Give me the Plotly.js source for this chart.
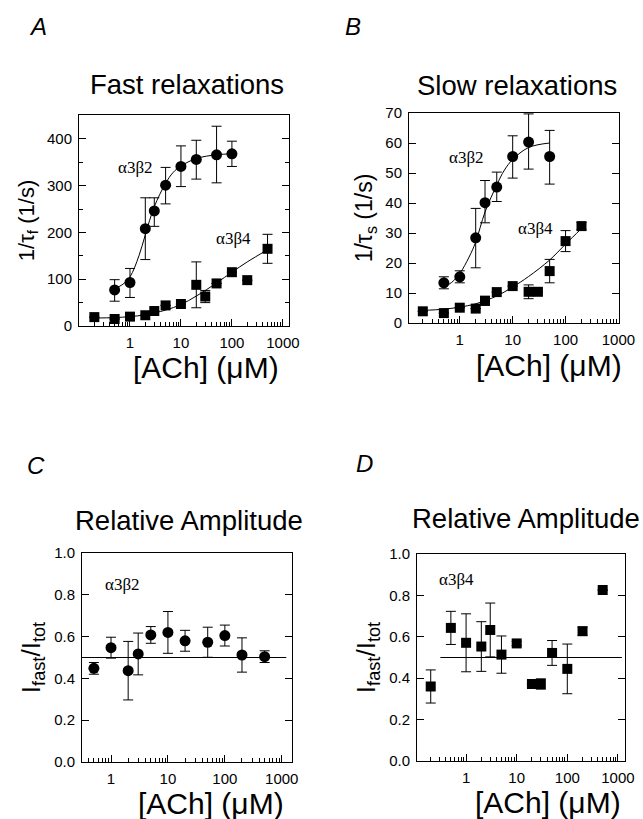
<!DOCTYPE html>
<html><head><meta charset="utf-8">
<script src="https://cdn.plot.ly/plotly-3.0.1.min.js"></script>
<style>html,body{margin:0;padding:0;background:#fff}#chart{width:643px;height:819px}</style>
</head><body><div id="chart"></div>
<script>
// ---------- Data ----------
// Panel A: fast relaxations 1/tau_f (1/s)
const concA_b2 = [0.5, 1, 2, 3, 5, 10, 20, 50, 100];
const rateA_b2 = [77, 93, 208, 246, 301, 341, 356, 366, 368];
const errA_b2_plus = [22, 30, 66, 28, 38, 44, 41, 61, 27];
const errA_b2_minus = [24, 32, 66, 33, 40, 43, 42, 60, 27];
const fitA_b2_x = [0.5, 0.7, 1, 1.5, 2, 3, 5, 7, 10, 20, 50, 100];
const fitA_b2_y = [80, 88, 105, 150, 195, 255, 305, 328, 342, 358, 366, 368];

const concA_b4 = [0.2, 0.5, 1, 2, 3, 5, 10, 20, 30, 50, 100, 200, 500];
const rateA_b4 = [19, 15, 20, 23, 32, 44, 47, 88, 63, 91, 115, 98, 165];
const errA_b4 = [0, 0, 0, 0, 0, 0, 0, 49, 13, 0, 0, 0, 31];
const fitA_b4_x = [0.2, 0.5, 1, 2, 5, 10, 20, 50, 100, 200, 500];
const fitA_b4_y = [17, 18, 20, 24, 34, 46, 64, 92, 115, 137, 163];

// Panel B: slow relaxations 1/tau_s (1/s)
const concB_b2 = [0.5, 1, 2, 3, 5, 10, 20, 50];
const rateB_b2 = [13.4, 15.4, 28.4, 40.1, 45.3, 55.5, 60.3, 55.5];
const errB_b2_plus = [2, 2, 9.8, 7.4, 5, 6.9, 9.4, 8.7];
const errB_b2_minus = [2, 2, 10, 6.7, 4.8, 7.2, 9, 9.2];
const fitB_b2_x = [0.5, 0.7, 1, 1.5, 2, 3, 5, 7, 10, 20, 50];
const fitB_b2_y = [12, 13.5, 16.5, 22, 27, 37, 46, 51, 54.5, 58.5, 60];

const concB_b4 = [0.2, 0.5, 1, 2, 3, 5, 10, 20, 30, 50, 100, 200];
const rateB_b4 = [3.9, 3.3, 5.1, 4.8, 7.4, 10.3, 12.3, 10.4, 10.4, 17.3, 27.3, 32.3];
const errB_b4 = [0, 0, 0, 0, 1.5, 0, 0, 2.3, 0, 3.9, 3.5, 1.2];
const fitB_b4_x = [0.2, 0.5, 1, 2, 5, 10, 20, 50, 100, 200];
const fitB_b4_y = [4.2, 4.6, 5.3, 6.4, 9, 12, 15.5, 21, 26.3, 31.5];

// Panel C: relative amplitude, alpha3beta2
const concC = [0.5, 1, 2, 3, 5, 10, 20, 50, 100, 200, 500];
const ampC = [0.448, 0.547, 0.437, 0.517, 0.608, 0.62, 0.58, 0.573, 0.605, 0.512, 0.504];
const errC = [0.028, 0.05, 0.14, 0.1, 0.04, 0.1, 0.05, 0.072, 0.05, 0.082, 0.028];

// Panel D: relative amplitude, alpha3beta4
const concD = [0.2, 0.5, 1, 2, 3, 5, 10, 20, 30, 50, 100, 200, 500];
const ampD = [0.36, 0.643, 0.571, 0.553, 0.633, 0.514, 0.568, 0.372, 0.372, 0.522, 0.445, 0.627, 0.826];
const errD = [0.08, 0.08, 0.14, 0.12, 0.13, 0.09, 0.01, 0, 0.025, 0.06, 0.12, 0.02, 0];

// Reference line at 0.5
const refLineX = [0.31, 1200];
const refLineY = [0.5, 0.5];

// Tick labels
const xTickVals = [1, 10, 100, 1000];
const xTickText = ['1', '10', '100', '1000'];

// ---------- Layout helpers ----------
const W = 643, H = 819;
const px = x => x / W;
const py = y => 1 - y / H;
const FONT = 'Liberation Sans, Arial, Helvetica, sans-serif';
const SERIF = 'Liberation Serif, Times New Roman, serif';

const minorVals = [];
for (let d = -1; d <= 2; d++) for (let k = 2; k <= 9; k++) minorVals.push(k * Math.pow(10, d));

function xAxis(x0, x1, range, anchor) {
  return {
    type: 'log', domain: [px(x0), px(x1)], range: range, anchor: anchor,
    tickmode: 'array', tickvals: xTickVals, ticktext: xTickText,
    ticks: 'inside', ticklen: 7, tickwidth: 1, tickcolor: '#000',
    showline: true, linecolor: '#000', linewidth: 1, mirror: true,
    showgrid: false, zeroline: false, automargin: false,
    tickfont: {size: 15, color: '#000', family: FONT},
    ticklabelstandoff: 3,
    minor: {tickmode: 'array', tickvals: minorVals, ticks: 'inside', ticklen: 4, tickcolor: '#000', showgrid: false}
  };
}
function xTop(range, overlay, anchor) {
  return {
    type: 'log', range: range, overlaying: overlay, anchor: anchor, side: 'top',
    tickmode: 'array', tickvals: xTickVals, showticklabels: false,
    ticks: 'inside', ticklen: 7, tickwidth: 1, tickcolor: '#000',
    showline: false, showgrid: false, zeroline: false, automargin: false
  };
}
function yAxis(y0, y1, range, anchor, dtick, minorDtick, title, tsize, fmt) {
  const ax = {
    domain: [py(y1), py(y0)], range: range, anchor: anchor,
    tickmode: 'linear', tick0: 0, dtick: dtick,
    ticks: 'inside', ticklen: 7, tickwidth: 1, tickcolor: '#000',
    showline: true, linecolor: '#000', linewidth: 1, mirror: 'ticks',
    showgrid: false, zeroline: false, automargin: false,
    tickfont: {size: 15, color: '#000', family: FONT},
    ticklabelstandoff: 3,
    title: {text: title, font: {size: tsize, color: '#000', family: FONT}, standoff: 6}
  };
  if (fmt) ax.tickformat = fmt;
  if (minorDtick) ax.minor = {dtick: minorDtick, ticks: 'inside', ticklen: 4, tickcolor: '#000', showgrid: false};
  return ax;
}

const errStyle = (plus, minus) => ({type: 'data', array: plus, arrayminus: minus, symmetric: !minus,
  visible: true, color: '#000', thickness: 1, width: 5});
const circ = {symbol: 'circle', size: 11, color: '#000'};
const sq = {symbol: 'square', size: 10, color: '#000'};
const fitLine = {color: '#000', width: 1, shape: 'spline'};

const traces = [
  // Panel A
  {x: fitA_b2_x, y: fitA_b2_y, xaxis: 'x', yaxis: 'y', mode: 'lines', line: fitLine, hoverinfo: 'skip'},
  {x: fitA_b4_x, y: fitA_b4_y, xaxis: 'x', yaxis: 'y', mode: 'lines', line: fitLine, hoverinfo: 'skip'},
  {x: concA_b2, y: rateA_b2, xaxis: 'x', yaxis: 'y', mode: 'markers', marker: circ, error_y: errStyle(errA_b2_plus, errA_b2_minus)},
  {x: concA_b4, y: rateA_b4, xaxis: 'x', yaxis: 'y', mode: 'markers', marker: sq, error_y: errStyle(errA_b4)},
  // Panel B
  {x: fitB_b2_x, y: fitB_b2_y, xaxis: 'x2', yaxis: 'y2', mode: 'lines', line: fitLine, hoverinfo: 'skip'},
  {x: fitB_b4_x, y: fitB_b4_y, xaxis: 'x2', yaxis: 'y2', mode: 'lines', line: fitLine, hoverinfo: 'skip'},
  {x: concB_b2, y: rateB_b2, xaxis: 'x2', yaxis: 'y2', mode: 'markers', marker: circ, error_y: errStyle(errB_b2_plus, errB_b2_minus)},
  {x: concB_b4, y: rateB_b4, xaxis: 'x2', yaxis: 'y2', mode: 'markers', marker: sq, error_y: errStyle(errB_b4)},
  // Panel C
  {x: refLineX, y: refLineY, xaxis: 'x3', yaxis: 'y3', mode: 'lines', line: {color: '#000', width: 1}, hoverinfo: 'skip'},
  {x: concC, y: ampC, xaxis: 'x3', yaxis: 'y3', mode: 'markers', marker: circ, error_y: errStyle(errC)},
  // Panel D
  {x: refLineX, y: refLineY, xaxis: 'x4', yaxis: 'y4', mode: 'lines', line: {color: '#000', width: 1}, hoverinfo: 'skip'},
  {x: concD, y: ampD, xaxis: 'x4', yaxis: 'y4', mode: 'markers', marker: sq, error_y: errStyle(errD)}
];

const rA = [-1.0, 3.12], rB = [-0.96, 3.01], rC = [-0.51, 3.18], rD = [-0.97, 3.14];

function ann(text, x, y, size, family) {
  return {text: text, x: px(x), y: py(y), xref: 'paper', yref: 'paper',
    showarrow: false, xanchor: 'center', yanchor: 'middle',
    font: {size: size, color: '#000', family: family || FONT}};
}

const layout = {
  width: W, height: H, margin: {l: 0, r: 0, t: 0, b: 0},
  paper_bgcolor: '#fff', plot_bgcolor: '#fff', showlegend: false,
  font: {family: FONT, color: '#000'},
  xaxis: xAxis(79, 289, rA, 'y'),
  yaxis: yAxis(115, 326, [0, 451], 'x', 100, 50, '1/τ<sub>f</sub> (1/s)', 22),
  xaxis2: xAxis(409, 619, rB, 'y2'),
  yaxis2: yAxis(113, 323, [0, 70], 'x2', 10, null, '1/τ<sub>s</sub> (1/s)', 23),
  xaxis3: xAxis(82, 292, rC, 'y3'),
  yaxis3: yAxis(553, 762, [0, 1.0], 'x3', 0.2, null, 'I<sub>fast</sub>/I<sub>tot</sub>', 26, '.1f'),
  xaxis4: xAxis(417, 625, rD, 'y4'),
  yaxis4: yAxis(554, 761, [0, 1.0], 'x4', 0.2, null, 'I<sub>fast</sub>/I<sub>tot</sub>', 26, '.1f'),
  xaxis5: xTop(rA, 'x', 'y'),
  xaxis6: xTop(rB, 'x2', 'y2'),
  xaxis7: xTop(rC, 'x3', 'y3'),
  xaxis8: xTop(rD, 'x4', 'y4'),
  annotations: [
    ann('<i>A</i>', 38, 27, 24),
    ann('<i>B</i>', 353, 27, 24),
    ann('<i>C</i>', 36, 465, 24),
    ann('<i>D</i>', 364, 463, 24),
    ann('Fast relaxations', 187, 85, 27.5),
    ann('Slow relaxations', 517, 86, 27.5),
    ann('Relative Amplitude', 189, 520, 27.5),
    ann('Relative Amplitude', 526, 518, 27.5),
    // x-axis titles
    ann('[ACh] (μM)', 206, 368, 30),
    ann('[ACh] (μM)', 549, 365, 30),
    ann('[ACh] (μM)', 211, 803, 30),
    ann('[ACh] (μM)', 548, 802, 30),
    // series labels
    ann('α3β2', 135, 168, 17, SERIF),
    ann('α3β4', 233, 238, 17, SERIF),
    ann('α3β2', 466, 157, 17, SERIF),
    ann('α3β4', 535, 228, 17, SERIF),
    ann('α3β2', 122, 584, 17, SERIF),
    ann('α3β4', 456, 579, 17, SERIF)
  ]
};

Plotly.newPlot('chart', traces, layout, {staticPlot: true, displayModeBar: false});
</script></body></html>
